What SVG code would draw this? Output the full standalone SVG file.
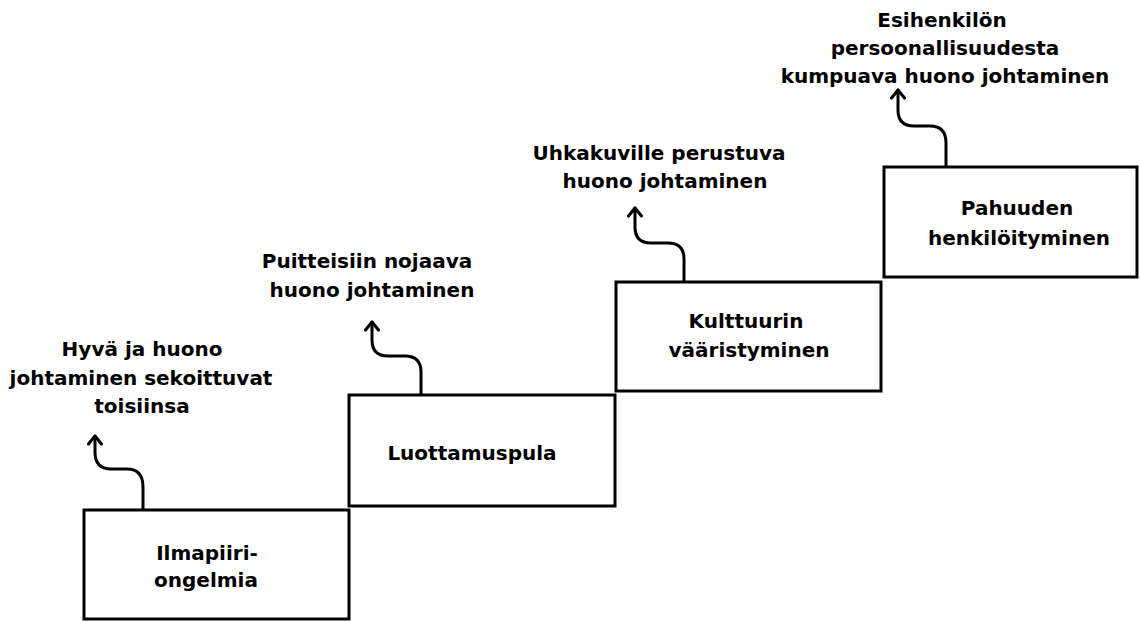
<svg xmlns="http://www.w3.org/2000/svg" width="1140" height="621" viewBox="0 0 1140 621">
<style>
.box{fill:#fff;stroke:#000;stroke-width:3}
.t{font-family:"DejaVu Sans",sans-serif;font-weight:700;font-size:20px;fill:#000;text-anchor:middle}
.arr{fill:none;stroke:#000;stroke-width:3;stroke-linecap:round;stroke-linejoin:round}
</style>
<defs>
<marker id="chev" viewBox="-10 -8 13 16" refX="0" refY="0" markerWidth="13" markerHeight="16" markerUnits="userSpaceOnUse" orient="auto">
<path d="M-8,-6.5 L0,0 L-8,6.5" fill="none" stroke="#000" stroke-width="3" stroke-linecap="round" stroke-linejoin="round"/>
</marker>
</defs>
<rect width="1140" height="621" fill="#fff"/>
<g id="connectors">
<path class="arr" marker-end="url(#chev)" d="M143,510 V487 Q143,469 127,469 H111 Q95,469 95,452 V436"/>
<path class="arr" marker-end="url(#chev)" d="M421,395 V372 Q421,356 405,356 H388 Q372,356 372,340 V322"/>
<path class="arr" marker-end="url(#chev)" d="M684,282 V259 Q684,243 668,243 H651 Q635,243 635,227 V208"/>
<path class="arr" marker-end="url(#chev)" d="M946,167 V143 Q946,126 930,126 H914 Q898,126 898,110 V90"/>
</g>
<g id="step1">
<rect class="box" x="84" y="510" width="265" height="109"/>
<text class="t" x="207" y="560">Ilmapiiri-</text>
<text class="t" x="206" y="587">ongelmia</text>
</g>
<g id="step2">
<rect class="box" x="349" y="395" width="266" height="111"/>
<text class="t" x="472" y="460">Luottamuspula</text>
</g>
<g id="step3">
<rect class="box" x="616" y="282" width="265" height="109"/>
<text class="t" x="746" y="328">Kulttuurin</text>
<text class="t" x="749" y="357">vääristyminen</text>
</g>
<g id="step4">
<rect class="box" x="884" y="167" width="253" height="110"/>
<text class="t" x="1017" y="215">Pahuuden</text>
<text class="t" x="1019" y="245">henkilöityminen</text>
</g>
<g id="label1">
<text class="t" x="142" y="356">Hyvä ja huono</text>
<text class="t" x="141" y="385">johtaminen sekoittuvat</text>
<text class="t" x="142" y="413">toisiinsa</text>
</g>
<g id="label2">
<text class="t" x="367" y="268">Puitteisiin nojaava</text>
<text class="t" x="372" y="297">huono johtaminen</text>
</g>
<g id="label3">
<text class="t" x="659" y="160">Uhkakuville perustuva</text>
<text class="t" x="665" y="188">huono johtaminen</text>
</g>
<g id="label4">
<text class="t" x="942" y="27">Esihenkilön</text>
<text class="t" x="945" y="55">persoonallisuudesta</text>
<text class="t" x="945" y="83">kumpuava huono johtaminen</text>
</g>
</svg>
